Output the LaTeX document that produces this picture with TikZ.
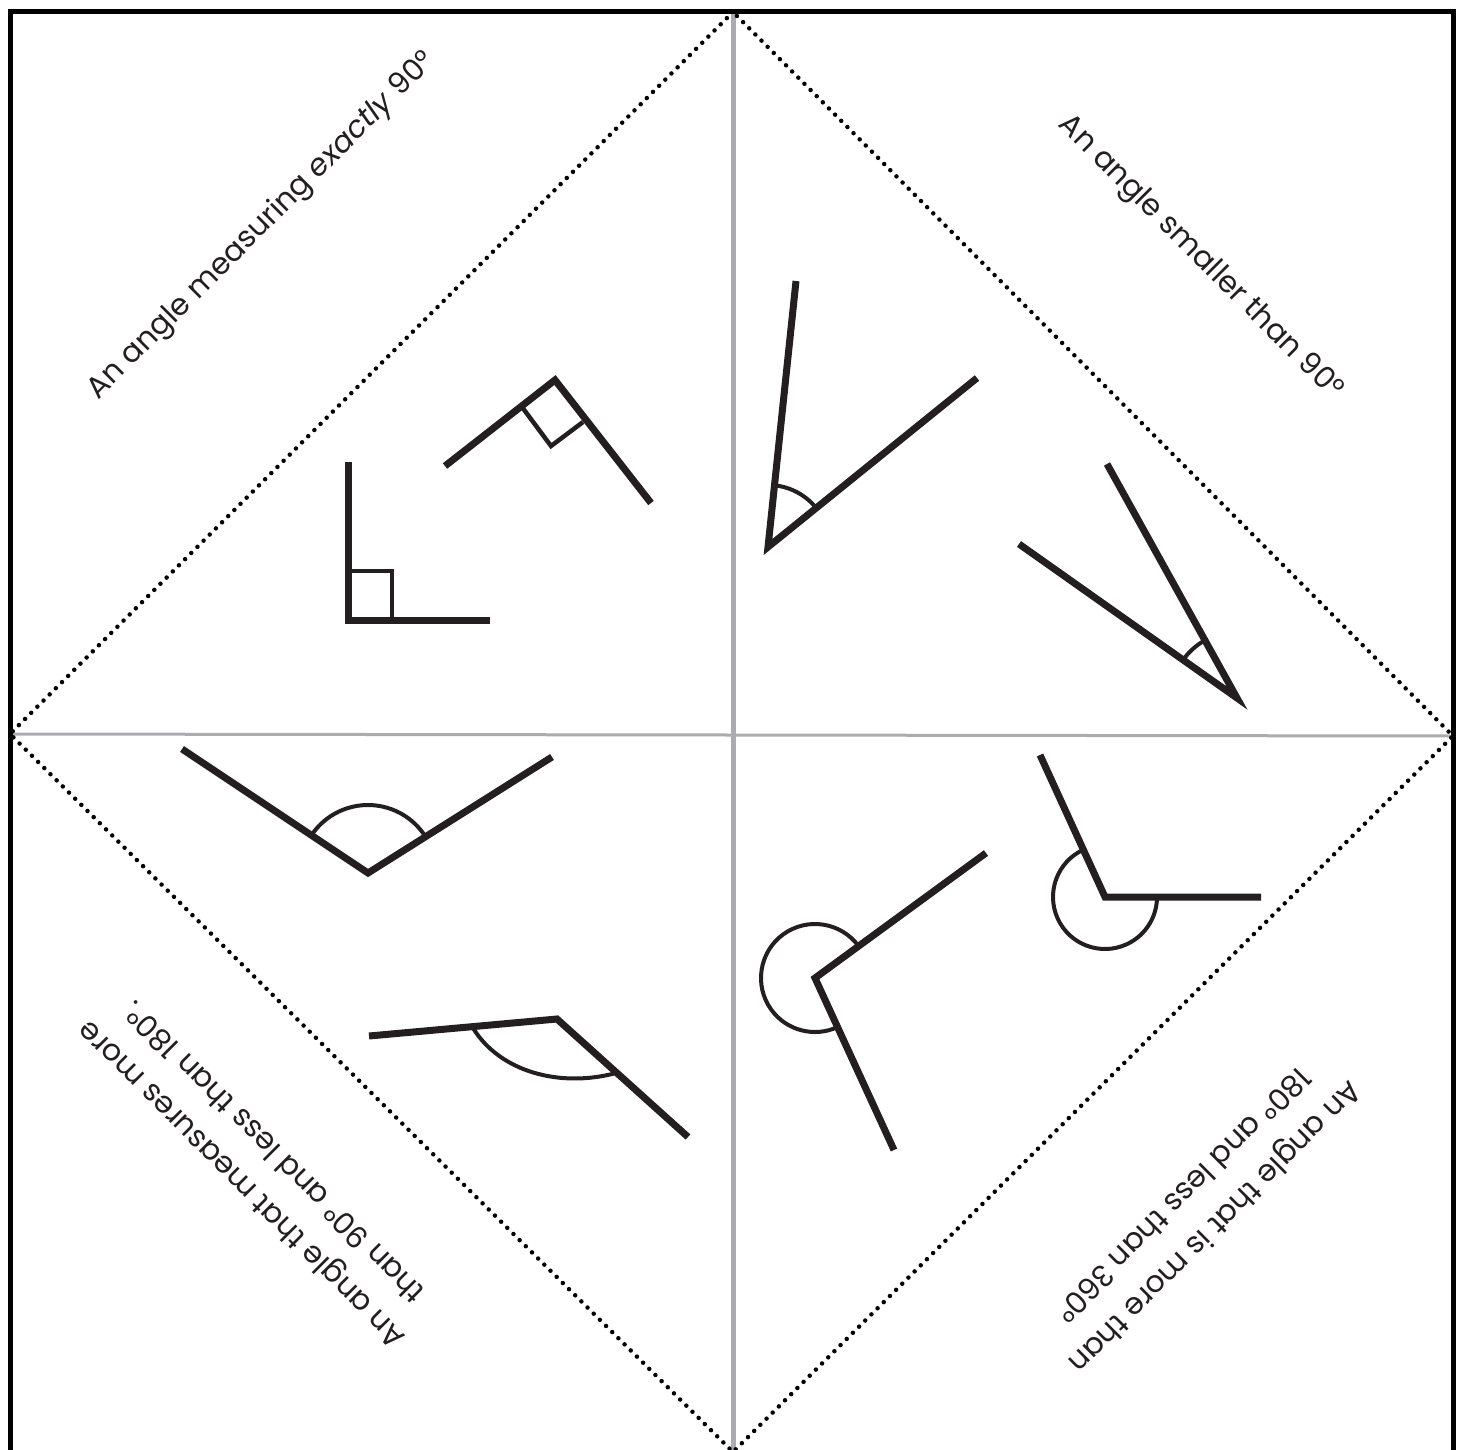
\documentclass[tikz,border=0pt]{standalone}
\usepackage{fontspec}
\setmainfont{Poppins}
\definecolor{ink}{HTML}{231F20}
\definecolor{fold}{HTML}{ABABB0}
\tikzset{
  arm/.style={line width=7pt, draw=ink, line cap=butt, line join=miter},
  sqr/.style={line width=4.5pt, draw=ink},
  arcs/.style={line width=4pt, draw=ink},
  dots/.style={line width=4.5pt, draw=black, line cap=round, dash pattern=on 0pt off 8.7pt},
  lbl/.style={font=\fontsize{30}{46}\selectfont, text=ink, align=center, inner sep=0pt}
}
\begin{document}
\begin{tikzpicture}[x=1pt,y=-1pt]
\useasboundingbox (0,0) rectangle (1461,1450);
\fill[white] (0,0) rectangle (1461,1450);
% named points of the sheet
\coordinate (TL) at (10,12);
\coordinate (TR) at (1453,12);
\coordinate (BL) at (10,1452);
\coordinate (BR) at (1453,1452);
\coordinate (Tm) at (733,12);
\coordinate (Bm) at (733,1452);
\coordinate (Lm) at (10,734);
\coordinate (Rm) at (1453,736);
% fold lines
\draw[fold, line width=5pt] (Tm) -- (Bm);
\draw[fold, line width=3pt] (Lm) -- (Rm);
% dotted diamond
\draw[dots] (Tm) -- (Lm) -- (Bm) -- (Rm) -- cycle;
% frame
\draw[black, line width=5pt, line join=miter] (BL) -- (TL) -- (TR) -- (BR);
% texts
\node[lbl, rotate=45] (t1) at (262,226) {An angle measuring \textit{exactly} 90°};
\node[lbl, rotate=-45] (t2) at (1200,258) {An angle smaller than 90°};
\node[lbl, rotate=135] (t3) at (257,1169) {An angle that measures more\\than 90° and less than 180°.};
\node[lbl, rotate=-135] (t4) at (1200,1212) {An angle that is more than\\180° and less than 360°};
% angle A (right angle)
\draw[arm] (348,462) -- (348,620) -- (490,620);
\draw[sqr] (348,571) -- (392,571) -- (392,620);
% angle B (right angle, tilted)
\draw[arm] (445,466) -- (555,380) -- (651,503);
\draw[sqr] (522,407) -- (551,446) -- (583,422);
% angle C (acute)
\draw[arm] (796,281) -- (768,547) -- (977,378);
\draw[arcs] (768,547) ++(-39:62) arc[start angle=-39, end angle=-84, radius=62];
% angle D (acute)
\draw[arm] (1107,464) -- (1237,698) -- (1019,544);
\draw[arcs] (1237,698) ++(-119:66) arc[start angle=-119, end angle=-145, radius=66];
% angle E (obtuse)
\draw[arm] (182,749) -- (368,873) -- (552,757);
\draw[arcs] (368,873) ++(-32:68) arc[start angle=-32, end angle=-146, radius=68];
% angle F (obtuse)
\draw[arm] (369,1036) -- (557,1019) -- (688,1137);
\draw[arcs] (473,1028) .. controls (500,1072) and (560,1088) .. (616,1073);
% angle G (reflex)
\draw[arm] (986,853) -- (815,978) -- (894,1150);
\draw[arcs] (815,978) ++(-36:54) arc[start angle=-36, end angle=-295, radius=54];
% angle H (reflex)
\draw[arm] (1040,755) -- (1105,897) -- (1261,897);
\draw[arcs] (1105,897) ++(-114.6:52) arc[start angle=-114.6, end angle=-360, radius=52];
\end{tikzpicture}
\end{document}
